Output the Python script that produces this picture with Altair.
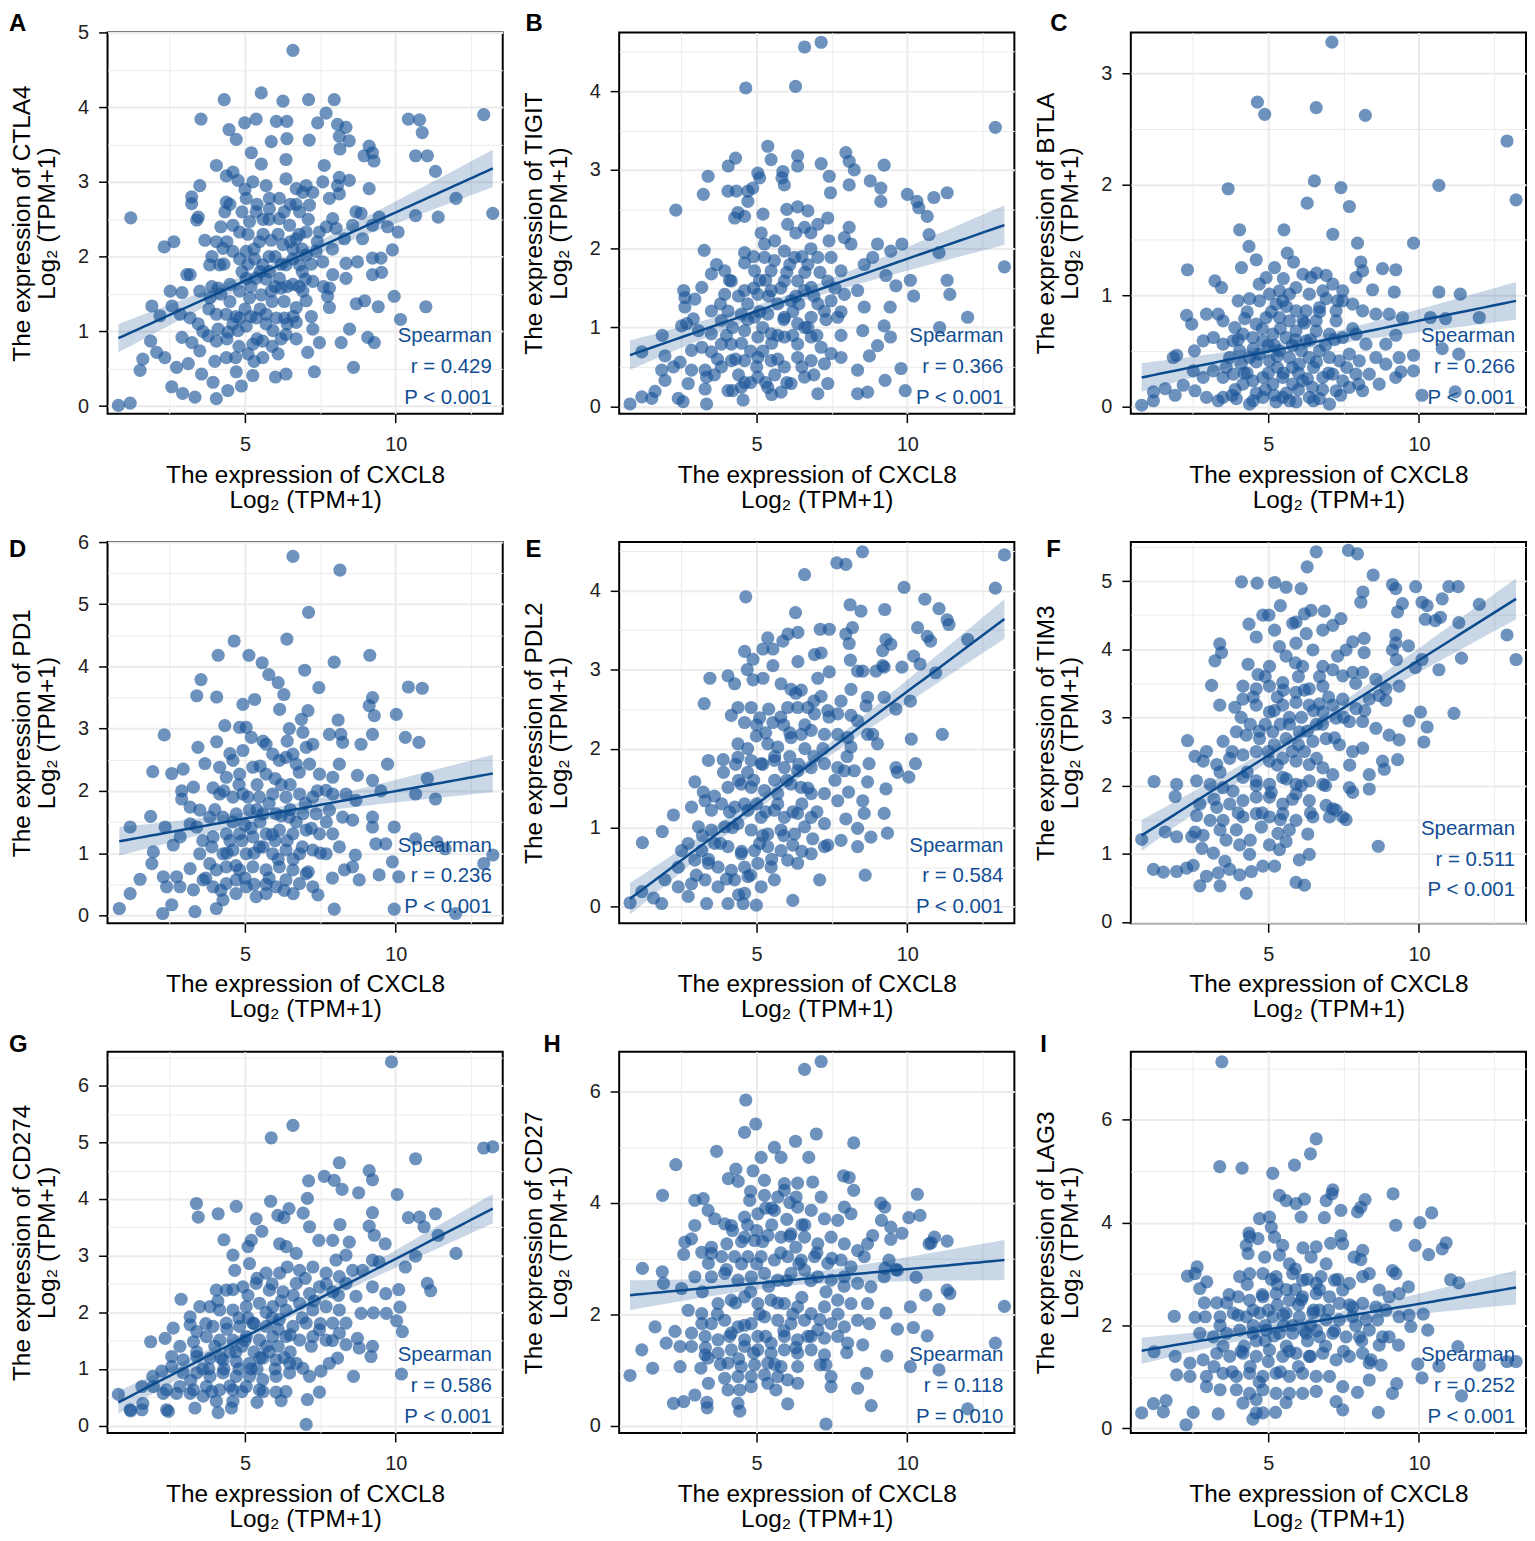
import altair as alt
import numpy as np
import pandas as pd

FONT = "Liberation Sans"
PT_COLOR = "#1a5597"
LINE_COLOR = "#0b4a8c"
TXT_COLOR = "#124e93"

LETTERS = list("ABCDEFGHI")
GENES = ["CTLA4", "TIGIT", "BTLA", "PD1", "PDL2", "TIM3", "CD274", "CD27", "LAG3"]
R_VALUES = ["0.429", "0.366", "0.266", "0.236", "0.584", "0.511", "0.586", "0.118", "0.252"]
P_VALUES = ["P < 0.001"] * 7 + ["P = 0.010", "P < 0.001"]
X_TITLE = ["The expression of CXCL8", "Log\u2082 (TPM+1)"]
X_TICKS = [2.5, 5, 7.5, 10, 12.5]
X_DOMAIN = [0.44, 13.55]

# fitted line value at min / max CXCL8, CI half-width at centre and at right end
FIT_START = [0.91, 0.65, 0.26, 1.19, 0.10, 1.27, 0.41, 2.34, 1.51]
FIT_END = [3.18, 2.30, 0.95, 2.28, 3.64, 4.74, 3.83, 2.97, 2.74]
BAND_MID = [0.07, 0.07, 0.05, 0.09, 0.07, 0.08, 0.07, 0.10, 0.09]
BAND_END = [0.25, 0.25, 0.17, 0.30, 0.25, 0.30, 0.26, 0.36, 0.33]

Y_DOMAINS = [[-0.10, 5.0], [-0.093, 4.745], [-0.066, 3.368], [-0.128, 6.0], [-0.21, 4.613],
             [-0.02, 5.573], [-0.13, 6.60], [-0.131, 6.706], [-0.09, 7.326]]
Y_MAJOR = [1, 1, 1, 1, 1, 1, 1, 2, 2]

a_pts = [(6.59,4.76),(4.31,4.10),(5.54,4.19),(6.26,4.08),(7.11,4.10),(7.96,4.10),(7.69,3.92),(3.54,3.84),(4.99,3.79),(5.37,3.84),(6.04,3.81),(6.39,3.81),(7.41,3.79),(8.07,3.77),(8.35,3.73),(4.47,3.70),(4.71,3.57),(5.87,3.54),(6.39,3.58),(7.13,3.56),(8.13,3.61),(8.46,3.55),(8.15,3.44),(9.12,3.48),(9.23,3.39),(8.95,3.35),(9.28,3.28),(10.42,3.84),(10.79,3.83),(10.88,3.66),(12.92,3.90),(10.66,3.35),(11.05,3.35),(11.32,3.14),(12.0,2.78),(13.22,2.58),(10.66,2.55),(11.41,2.53),(10.08,2.33),(9.73,2.40),(9.89,2.09),(9.51,1.98),(9.53,1.79),(9.95,1.47),(11.0,1.33),(9.42,1.33),(10.16,1.16),(9.29,0.85),(9.07,0.92),(8.6,0.52),(8.19,0.85),(8.47,1.03),(8.69,1.37),(8.97,1.41),(1.21,2.52),(2.32,2.13),(2.64,2.20),(1.91,1.34),(1.87,0.87),(1.52,0.48),(1.61,0.63),(0.8,0.01),(1.19,0.04),(2.57,0.26),(2.93,0.17),(3.34,0.12),(4.05,0.10),(4.43,0.21),(4.88,0.27),(5.26,0.41),(5.59,0.65),(6.01,0.39),(6.36,0.43),(7.30,0.46),(7.08,0.72),(7.47,0.85),(7.25,1.03),(2.07,0.72),(2.34,0.65),(2.73,0.52),(3.12,0.57),(3.56,0.43),(3.94,0.32),(4.71,0.46),(3.5,0.74),(4.05,0.87),(4.38,0.65),(4.69,0.65),(5.1,0.70),(3.18,1.76),(2.52,1.54),(2.91,1.52),(2.58,1.34),(2.85,1.23),(2.18,1.21),(3.18,1.18),(3.45,1.10),(2.91,0.92),(3.24,0.85),(3.78,0.94),(4.11,1.03),(4.44,0.99),(4.77,1.01),(5.04,1.07),(5.37,1.18),(5.7,1.23),(6.04,1.18),(6.31,1.18),(6.7,1.32),(7.03,1.41),(6.7,1.12),(5.93,1.01),(5.59,0.87),(5.26,0.83),(6.36,0.96),(3.5,1.54),(3.84,1.45),(4.11,1.58),(4.5,1.63),(4.82,1.54),(5.15,1.45),(5.54,1.49),(5.87,1.54),(6.2,1.58),(6.59,1.63),(6.92,1.54),(7.25,1.67),(7.74,1.47),(7.8,1.32),(7.8,1.58),(7.91,1.76),(8.35,1.71),(8.73,1.93),(8.35,1.91),(9.23,1.76),(9.23,1.98),(8.9,2.24),(8.3,2.24),(8.02,2.38),(8.57,2.42),(9.23,2.42),(9.45,2.53),(8.85,2.58),(4.16,1.89),(3.83,1.89),(4.05,2.20),(4.27,2.11),(4.6,2.07),(4.82,1.97),(5.04,2.07),(5.32,1.97),(5.59,1.89),(5.81,1.80),(6.14,1.71),(6.36,1.89),(6.59,1.97),(6.81,1.89),(7.03,2.02),(7.36,2.07),(7.58,1.93),(5.48,2.20),(5.87,2.22),(6.26,2.16),(6.7,2.24),(7.03,2.33),(7.47,2.33),(7.91,2.51),(4.82,2.33),(4.6,2.42),(5.15,2.47),(5.37,2.60),(5.81,2.64),(6.14,2.51),(6.48,2.42),(6.81,2.60),(7.14,2.69),(6.92,2.86),(7.25,2.86),(7.03,2.95),(6.7,2.91),(6.36,3.04),(5.7,2.95),(5.81,2.78),(6.14,2.78),(5.26,3.0),(4.77,3.02),(5.04,2.78),(4.38,2.73),(4.33,2.60),(4.6,3.13),(4.05,3.22),(4.38,3.08),(5.21,3.39),(5.54,3.24),(3.5,2.95),(3.23,2.80),(3.23,2.71),(3.45,2.53),(3.4,2.49),(3.67,2.22),(3.07,1.76),(5.04,1.71),(5.37,1.71),(4.38,1.23),(4.82,1.18),(4.05,1.23),(8.13,2.84),(8.07,2.95),(8.46,3.02),(9.12,2.91),(8.68,2.60),(7.8,2.78),(7.58,3.0),(7.63,3.22),(8.13,3.06),(6.36,3.30),
         (4.5,1.4),(4.9,1.8),(5.2,1.6),(5.5,1.3),(5.8,2.0),(6.0,1.6),(6.3,1.4),(6.6,2.1),(6.9,1.8),(5.1,2.3),(5.6,2.5),(6.5,2.7),(4.3,1.9),(4.7,1.2),(5.3,0.6),(5.9,0.8),(6.4,1.1),(3.9,1.6),(4.2,2.4),(5.7,1.7),(6.1,2.3),(6.8,2.3),(7.2,1.2),(5.0,1.3),(4.4,0.9),
         (3.8,1.3),(4.0,0.6),(4.2,1.5),(4.4,2.2),(4.6,1.1),(4.8,0.8),(4.9,2.6),(5.1,1.9),(5.2,1.2),(5.3,2.1),(5.4,0.9),(5.5,1.8),(5.6,2.3),(5.7,1.1),(5.8,2.5),(5.9,1.4),(6.0,2.0),(6.1,0.7),(6.2,1.9),(6.3,2.6),(6.4,1.6),(6.5,2.2),(6.6,1.2),(6.7,2.7),(6.8,1.6),(6.9,2.1),(7.0,1.7),(7.1,2.5),(7.2,1.9),(7.4,2.2),(7.6,1.6),(7.7,2.4),(4.5,2.7),(5.0,2.9),(3.6,1.0),(3.9,2.0),(6.2,0.9),(5.4,2.7),(6.7,0.9),(7.9,2.1)]

b_pts = [(6.59,4.56),(7.14,4.62),(4.64,4.04),(6.29,4.06),(12.92,3.54),(13.22,1.77),(5.37,3.30),(5.48,3.13),(4.3,3.15),(4.06,3.05),(3.39,2.92),(3.23,2.69),(2.32,2.49),(3.26,1.98),(5.04,2.96),(5.1,2.9),(5.87,2.98),(5.84,2.9),(5.92,2.81),(6.36,3.18),(6.36,3.05),(7.14,3.08),(7.41,2.92),(7.45,2.71),(7.96,3.22),(8.07,3.11),(8.24,3.0),(8.07,2.81),(8.77,2.86),(9.23,3.06),(9.12,2.77),(9.12,2.6),(10.0,2.69),(10.32,2.6),(10.38,2.52),(10.66,2.41),(10.88,2.65),(11.32,2.71),(10.72,2.18),(11.05,1.95),(9.82,2.06),(10.1,1.6),(10.21,1.4),(11.32,1.6),(11.41,1.42),(12.0,1.13),(11.07,1.0),(9.44,0.88),(9.79,0.48),(9.93,0.2),(9.26,0.33),(8.68,0.18),(8.35,0.16),(8.35,0.46),(9.01,0.77),(8.74,0.64),(9.23,1.02),(9.43,1.26),(9.62,1.53),(9.29,1.66),(9.45,1.97),(9.01,2.06),(8.85,1.89),(8.57,1.8),(8.35,1.47),(8.57,1.26),(8.52,0.96),(8.13,2.06),(8.07,2.27),(7.91,2.14),(7.36,2.39),(7.03,2.31),(6.7,2.48),(6.36,2.53),(6.03,2.31),(6.59,2.27),(5.15,2.2),(5.26,2.06),(5.21,2.44),(4.71,2.6),(4.38,2.46),(4.71,2.73),(4.87,2.77),(4.05,2.73),(4.33,2.73),(4.6,2.41),(4.27,2.39),(3.67,1.8),(3.5,1.68),(3.18,1.51),(2.58,1.47),(2.62,1.38),(2.62,1.26),(2.95,1.36),(2.9,1.11),(3.5,1.21),(3.94,1.72),(3.94,1.42),(4.16,1.59),(4.6,1.95),(4.6,1.82),(5.26,1.89),(5.59,1.85),(5.92,1.97),(6.26,1.89),(6.7,1.8),(7.03,1.89),(7.47,1.89),(7.8,1.72),(7.36,1.59),(6.81,1.51),(6.36,1.59),(5.92,1.59),(5.48,1.72),(4.93,1.72),(4.6,1.47),(5.04,1.42),(5.48,1.47),(5.7,1.3),(6.14,1.34),(6.59,1.47),(7.03,1.3),(7.47,1.34),(7.91,1.42),(7.69,1.13),(7.25,1.21),(6.81,1.13),(6.36,1.05),(5.92,1.13),(5.37,1.17),(4.93,1.13),(4.49,1.17),(4.05,1.21),(3.83,1.09),(3.5,0.92),(3.07,0.96),(2.84,0.71),(3.18,0.75),(3.5,0.69),(3.83,0.79),(4.16,0.79),(4.6,0.96),(5.04,0.88),(5.48,0.92),(5.92,0.88),(6.36,0.79),(6.81,0.88),(7.14,0.75),(7.47,0.67),(7.8,0.9),(7.25,0.54),(6.81,0.58),(6.36,0.62),(5.92,0.5),(5.48,0.58),(5.04,0.62),(4.6,0.58),(4.16,0.58),(3.83,0.5),(3.29,0.46),(2.84,0.46),(2.46,0.56),(1.96,0.64),(1.85,0.46),(2.24,0.5),(1.96,0.33),(2.73,0.29),(3.29,0.22),(3.34,0.37),(4.05,0.2),(4.49,0.24),(4.55,0.08),(5.04,0.37),(5.37,0.24),(5.81,0.18),(6.14,0.29),(6.59,0.37),(7.03,0.16),(7.36,0.29),(7.8,0.62),(0.8,0.03),(1.19,0.12),(1.52,0.1),(1.63,0.19),(2.4,0.1),(2.56,0.06),(3.34,0.03),(1.19,0.69),(1.87,0.9),(2.51,1.02),(2.68,1.05),
         (4.4,0.4),(4.8,0.3),(5.2,0.7),(4.5,0.8),(5.7,0.9),(6.2,1.2),(6.6,1.0),(4.9,1.5),(5.3,1.6),(6.0,1.7),(6.5,1.9),(4.2,1.0),(3.7,0.6),(5.6,0.4),(6.9,0.4),(5.1,1.2),(4.7,1.3),(6.3,1.4),
         (3.6,0.4),(3.8,1.3),(4.0,0.9),(4.1,1.6),(4.3,0.6),(4.4,1.4),(4.6,0.3),(4.7,1.1),(4.8,0.7),(4.9,1.9),(5.0,0.5),(5.1,1.6),(5.2,1.0),(5.3,0.3),(5.4,1.4),(5.5,0.8),(5.6,2.1),(5.7,0.6),(5.8,1.5),(5.9,1.1),(6.0,0.3),(6.1,1.8),(6.2,0.9),(6.3,2.2),(6.4,1.3),(6.5,0.5),(6.6,1.7),(6.7,1.0),(6.8,2.0),(6.9,1.4),(7.0,0.9),(7.1,1.7),(7.3,1.1),(7.4,2.1),(7.6,1.5),(7.8,1.2),(4.2,0.2),(5.5,0.15),(6.0,2.5),(6.8,2.2)]

c_pts = [(7.11,3.28),(4.64,2.74),(4.88,2.63),(6.59,2.69),(8.22,2.62),(12.92,2.39),(13.22,1.86),(3.67,1.96),(6.53,2.03),(7.41,1.97),(6.29,1.83),(7.69,1.80),(10.66,1.99),(4.05,1.59),(5.52,1.59),(7.14,1.55),(7.96,1.47),(9.82,1.47),(4.36,1.44),(5.63,1.38),(2.32,1.23),(4.6,1.32),(5.84,1.30),(4.11,1.25),(3.23,1.13),(3.45,1.07),(5.21,1.25),(4.93,1.16),(6.15,1.19),(6.42,1.16),(6.92,1.18),(8.07,1.3),(8.13,1.22),(7.91,1.16),(8.79,1.24),(9.23,1.23),(8.46,1.05),(9.18,1.03),(10.66,1.03),(11.37,1.01),(12.0,0.8),(10.88,0.79),(10.38,0.8),(10.77,0.52),(11.32,0.47),(9.82,0.46),(9.4,0.31),(9.82,0.32),(11.2,0.13),(10.1,0.1),(2.29,0.82),(2.46,0.74),(2.95,0.83),(3.34,0.83),(1.96,0.46),(2.55,0.5),(2.84,0.59),(3.18,0.62),(3.5,0.77),(3.89,0.71),(4.22,0.79),(4.38,0.97),(4.71,0.95),(5.04,1.01),(5.26,0.92),(5.48,0.95),(5.92,0.86),(6.26,0.86),(6.7,0.89),(6.92,0.97),(7.25,0.86),(7.47,0.95),(7.8,0.92),(8.13,0.86),(8.57,0.83),(9.01,0.83),(9.45,0.8),(9.23,0.64),(8.9,0.56),(8.57,0.44),(8.9,0.38),(9.34,0.44),(9.23,0.26),(8.68,0.2),(8.35,0.29),(8.13,0.14),(7.69,0.17),(7.25,0.14),(7.03,0.02),(6.7,0.07),(6.36,0.08),(5.92,0.04),(5.48,0.08),(5.26,0.04),(4.82,0.08),(4.38,0.02),(3.94,0.07),(3.5,0.08),(3.34,0.05),(2.95,0.08),(2.57,0.14),(2.18,0.19),(1.91,0.1),(1.58,0.16),(1.19,0.13),(1.19,0.05),(0.8,0.01),(1.85,0.44),(2.51,0.32),(2.84,0.26),(3.18,0.32),(3.5,0.26),(3.84,0.29),(4.16,0.2),(4.49,0.23),(4.82,0.26),(5.15,0.2),(5.48,0.26),(5.81,0.2),(6.14,0.23),(6.47,0.17),(6.81,0.26),(7.14,0.29),(7.47,0.23),(7.91,0.29),(3.72,0.44),(4.05,0.5),(4.38,0.44),(4.71,0.47),(5.04,0.41),(5.37,0.5),(5.7,0.44),(6.03,0.38),(6.36,0.44),(6.7,0.5),(7.03,0.44),(7.36,0.41),(7.69,0.47),(8.02,0.41),(8.24,0.56),(7.91,0.65),(7.47,0.62),(7.03,0.65),(6.59,0.68),(6.26,0.59),(5.92,0.68),(5.59,0.62),(5.15,0.65),(4.82,0.59),(4.49,0.62),(4.16,0.65),(3.83,0.59),(3.5,0.56),(6.59,0.77),(6.15,0.77),(5.7,0.77),(5.37,0.8),(4.93,0.8),(4.6,0.74),(7.25,0.77),(6.81,1.04),(6.36,1.01),(5.7,1.01),(5.37,1.04),(7.47,1.04),(7.14,1.1),(5.92,1.07),
         (4.3,0.3),(4.6,0.12),(5.0,0.3),(5.3,0.35),(5.6,0.12),(6.0,0.3),(4.1,0.38),(5.2,0.55),(5.8,0.55),(4.5,0.52),(6.5,0.35),(3.9,0.15),
         (3.6,0.35),(3.8,0.1),(4.0,0.6),(4.2,0.3),(4.3,0.85),(4.5,0.05),(4.6,0.4),(4.8,0.7),(4.9,0.15),(5.0,0.55),(5.1,0.85),(5.2,0.1),(5.3,0.45),(5.4,0.7),(5.5,0.3),(5.6,0.9),(5.7,0.05),(5.8,0.35),(5.9,0.6),(6.0,0.15),(6.1,0.5),(6.2,0.75),(6.3,0.25),(6.4,0.6),(6.5,0.05),(6.6,0.4),(6.7,0.85),(6.8,0.15),(6.9,0.55),(7.0,0.3),(7.2,0.6),(7.4,0.1),(7.6,0.35),(7.8,0.7),(8.0,0.2),(4.7,1.1),(5.5,1.15),(6.6,1.2),(4.0,0.95),(7.3,0.95)]

d_pts = [(6.59,5.77),(8.15,5.55),(7.11,4.87),(6.39,4.44),(4.64,4.41),(4.11,4.18),(5.13,4.18),(5.57,4.06),(7.96,4.07),(9.14,4.18),(6.98,3.94),(3.54,3.79),(5.79,3.87),(6.1,3.74),(3.4,3.53),(4.06,3.51),(7.45,3.66),(6.29,3.55),(10.42,3.67),(10.88,3.65),(9.23,3.5),(9.12,3.37),(9.29,3.21),(10.02,3.23),(4.93,3.39),(5.32,3.47),(6.15,3.31),(7.09,3.29),(6.87,3.15),(8.09,3.14),(2.32,2.9),(3.44,2.7),(4.06,2.79),(4.33,3.05),(4.82,3.02),(5.04,3.02),(5.21,2.86),(5.7,2.75),(6.47,3.0),(6.92,2.94),(7.8,2.91),(8.18,2.91),(8.24,2.78),(8.85,2.75),(9.23,2.91),(10.32,2.86),(10.77,2.78),(7.25,2.75),(3.67,2.44),(1.94,2.31),(2.57,2.28),(2.95,2.35),(2.9,2.0),(2.9,1.87),(9.73,2.43),(9.23,2.17),(8.73,2.25),(11.05,2.2),(10.66,1.95),(11.32,1.87),(9.51,2.0),(9.23,1.58),(9.23,1.42),(9.95,1.42),(9.34,1.15),(9.67,1.15),(10.66,1.23),(11.37,1.18),(11.64,1.07),(9.89,0.86),(8.66,0.97),(8.57,0.78),(8.3,0.73),(8.79,0.57),(9.45,0.65),(10.1,0.62),(12.92,0.83),(13.22,0.97),(11.99,0.03),(9.95,0.1),(7.96,0.1),(1.19,1.42),(1.87,1.59),(0.83,0.11),(1.19,0.35),(1.52,0.58),(1.91,0.83),(1.96,1.02),(2.27,0.03),(2.57,0.17),(3.34,0.06),(4.05,0.11),(4.27,0.25),(2.35,1.42),(2.62,1.13),(3.18,1.47),(3.5,1.69),(3.4,1.42),(2.85,1.26),(3.5,0.99),(3.18,0.75),(2.73,0.62),(2.29,0.62),(2.4,0.46),(2.84,0.46),(3.29,0.41),(3.61,0.57),(3.94,0.46),(4.38,0.51),(4.71,0.57),(5.04,0.46),(5.37,0.3),(5.7,0.35),(6.03,0.46),(6.36,0.57),(6.81,0.51),(7.25,0.46),(7.42,0.33),(7.03,0.67),(6.59,0.73),(6.14,0.78),(5.7,0.73),(5.26,0.78),(4.82,0.73),(4.38,0.78),(4.05,0.73),(3.83,0.83),(4.27,0.99),(4.6,1.05),(5.04,0.99),(5.48,1.1),(5.92,0.99),(6.36,1.05),(6.81,0.99),(7.25,1.05),(7.69,0.99),(8.13,1.1),(7.91,1.31),(7.47,1.31),(7.03,1.37),(6.59,1.31),(6.14,1.37),(5.7,1.31),(5.26,1.26),(4.82,1.31),(4.38,1.31),(3.94,1.26),(3.83,1.58),(4.27,1.58),(4.71,1.63),(5.15,1.69),(5.59,1.63),(6.03,1.63),(6.47,1.58),(6.92,1.63),(7.36,1.63),(7.8,1.69),(8.24,1.58),(8.57,1.53),(8.68,1.85),(8.35,1.95),(7.91,1.95),(7.69,2.01),(7.25,1.9),(6.81,1.95),(6.36,1.9),(5.92,1.95),(5.48,1.9),(4.93,1.95),(4.6,1.9),(4.16,1.95),(4.38,2.22),(4.82,2.27),(5.26,2.38),(5.7,2.27),(6.14,2.49),(6.36,2.54),(6.7,2.43),(7.14,2.43),(7.47,2.27),(7.91,2.22),(8.13,2.43),(5.92,2.59),(6.59,2.59),(7.03,2.7),(4.93,2.65),(4.6,2.49),(4.16,2.38),(3.94,2.05),(3.18,1.74),(3.29,2.06),
         (5.0,1.45),(5.5,1.5),(6.0,1.2),(6.5,1.7),(5.3,1.0),(5.8,0.6),(4.5,1.2),(6.2,2.1),(5.4,2.1),(4.7,0.35),(6.6,0.35),(3.6,1.2),
         (3.7,0.6),(3.9,1.1),(4.0,1.7),(4.2,0.4),(4.3,2.0),(4.4,1.0),(4.6,1.5),(4.7,0.8),(4.8,2.1),(4.9,1.2),(5.0,0.6),(5.1,1.9),(5.2,1.4),(5.3,0.5),(5.4,1.7),(5.5,2.4),(5.6,1.1),(5.7,0.5),(5.8,1.8),(5.9,1.3),(6.0,2.2),(6.1,0.9),(6.2,1.6),(6.3,0.4),(6.4,1.2),(6.5,2.1),(6.6,0.9),(6.7,1.5),(6.8,2.3),(6.9,1.1),(7.0,1.8),(7.1,0.7),(7.2,1.4),(7.4,2.0),(7.5,1.0),(7.7,1.5),(7.9,0.6),(4.5,2.6),(5.6,2.8),(6.4,2.8)]

e_pts = [(8.51,4.49),(13.22,4.45),(7.66,4.35),(7.96,4.33),(6.59,4.2),(12.92,4.03),(9.89,4.04),(4.64,3.92),(10.58,3.89),(8.1,3.82),(8.46,3.74),(9.25,3.76),(11.05,3.77),(11.32,3.63),(11.38,3.57),(6.29,3.72),(7.11,3.51),(7.41,3.51),(8.18,3.53),(10.34,3.53),(10.66,3.42),(10.77,3.36),(12.0,3.38),(5.37,3.4),(6.04,3.45),(6.37,3.47),(5.87,3.36),(7.96,3.45),(8.07,3.33),(9.29,3.38),(9.45,3.32),(9.18,3.24),(9.23,3.03),(4.6,3.23),(4.88,3.13),(5.21,3.26),(5.54,3.26),(5.54,3.05),(6.92,3.19),(7.14,3.21),(6.37,3.1),(8.11,3.12),(8.35,2.98),(8.52,2.98),(8.96,2.98),(9.18,3.05),(9.82,3.03),(10.21,3.17),(10.42,3.07),(10.94,2.96),(4.69,3.0),(4.88,2.87),(5.21,2.89),(3.45,2.89),(4.05,2.92),(4.27,2.82),(5.81,2.82),(6.14,2.75),(6.48,2.74),(7.03,2.89),(7.41,2.97),(7.14,2.66),(8.13,2.75),(8.68,2.65),(8.63,2.54),(9.23,2.65),(9.62,2.5),(10.1,2.6),(3.26,2.57),(4.38,2.52),(4.82,2.52),(4.16,2.42),(4.6,2.33),(5.1,2.39),(5.54,2.33),(6.03,2.52),(6.36,2.52),(6.7,2.52),(6.92,2.44),(7.36,2.48),(7.69,2.44),(8.13,2.42),(8.35,2.35),(8.68,2.18),(8.85,2.18),(9.01,2.06),(10.13,2.12),(11.16,2.18),(4.99,2.16),(5.37,2.06),(5.7,2.02),(6.14,2.14),(6.48,2.18),(6.81,2.23),(7.25,2.18),(7.69,2.18),(8.02,2.14),(8.13,2.02),(4.38,2.06),(3.4,1.85),(3.89,1.86),(4.38,1.89),(4.82,1.85),(5.15,1.81),(5.59,1.85),(5.92,1.76),(6.36,1.72),(6.81,1.76),(7.25,1.81),(7.69,1.76),(7.91,1.72),(8.24,1.72),(8.73,1.81),(9.62,1.76),(9.67,1.7),(10.27,1.81),(10.05,1.64),(2.95,1.58),(3.23,1.45),(4.05,1.51),(4.49,1.55),(4.82,1.51),(5.26,1.47),(5.7,1.43),(6.14,1.55),(6.47,1.51),(6.81,1.43),(7.25,1.43),(7.69,1.34),(8.05,1.45),(8.52,1.34),(8.68,1.58),(9.29,1.49),(8.57,1.18),(9.23,1.18),(7.96,1.11),(8.35,0.99),(9.34,0.93),(8.79,0.88),(8.35,0.76),(7.8,0.84),(7.36,0.78),(6.86,0.86),(7.09,0.34),(8.6,0.4),(6.2,0.08),(2.24,1.16),(1.87,0.95),(1.21,0.81),(2.84,1.26),(3.29,1.34),(3.5,1.22),(3.84,1.3),(4.27,1.26),(4.71,1.22),(5.15,1.13),(5.59,1.22),(5.92,1.13),(6.36,1.18),(6.81,1.13),(7.25,1.05),(3.07,1.01),(3.5,0.97),(3.94,1.01),(4.38,1.05),(4.82,0.97),(5.37,0.92),(5.81,0.97),(6.26,0.92),(6.59,1.01),(2.51,0.71),(2.73,0.8),(3.18,0.71),(3.61,0.8),(4.05,0.76),(4.49,0.67),(4.93,0.71),(5.37,0.76),(5.81,0.71),(6.2,0.78),(6.81,0.67),(7.25,0.76),(6.36,0.55),(6.03,0.59),(5.48,0.5),(5.04,0.55),(4.6,0.5),(4.16,0.46),(3.72,0.5),(3.4,0.55),(2.95,0.59),(2.4,0.5),(1.96,0.34),(2.4,0.25),(2.84,0.29),(3.29,0.34),(3.72,0.25),(4.27,0.34),(4.71,0.38),(5.15,0.25),(5.59,0.34),(4.6,0.17),(4.05,0.04),(3.34,0.04),(2.73,0.13),(1.85,0.04),(1.58,0.11),(1.19,0.19),(0.8,0.05),(4.99,0.02),(4.55,0.04),
         (4.7,1.7),(5.3,2.2),(5.0,1.3),(5.6,1.6),(6.1,1.9),(6.6,2.0),(5.9,2.3),(4.4,1.6),(6.5,1.3),(5.2,0.9),(4.1,1.2),(6.9,1.9),
         (3.0,0.4),(3.2,0.9),(3.4,0.6),(3.6,1.4),(3.8,0.8),(3.9,1.7),(4.0,0.35),(4.2,1.0),(4.3,1.8),(4.5,0.7),(4.6,1.3),(4.7,2.0),(4.8,0.4),(4.9,1.6),(5.0,2.3),(5.1,0.8),(5.2,1.8),(5.3,1.2),(5.4,2.5),(5.5,0.6),(5.6,1.9),(5.7,1.3),(5.8,2.4),(5.9,0.9),(6.0,1.6),(6.1,2.2),(6.2,1.2),(6.3,2.7),(6.4,1.8),(6.5,0.7),(6.6,2.3),(6.7,1.5),(6.9,2.6),(7.0,1.2),(7.2,2.0),(7.4,2.4),(7.6,1.6),(7.8,2.6),(8.0,1.9),(4.4,0.15)]

f_pts = [(6.59,5.43),(7.66,5.45),(7.96,5.4),(6.29,5.21),(8.48,5.09),(4.11,4.99),(4.63,4.97),(5.21,4.98),(5.59,4.91),(6.09,4.89),(9.12,4.95),(9.23,4.89),(9.89,4.92),(10.99,4.92),(11.3,4.92),(8.14,4.84),(8.07,4.69),(10.1,4.69),(10.27,4.64),(10.77,4.74),(9.45,4.67),(9.29,4.55),(12.0,4.66),(10.21,4.44),(10.54,4.42),(10.71,4.47),(11.32,4.39),(12.92,4.21),(13.22,3.85),(11.41,3.87),(10.66,3.7),(10.1,3.85),(9.88,3.73),(9.65,4.05),(9.23,4.21),(9.23,4.09),(9.12,3.99),(9.25,3.85),(8.18,4.16),(8.18,3.95),(7.8,4.11),(7.58,3.99),(7.41,4.45),(6.86,4.56),(6.42,4.57),(6.2,4.52),(5.4,4.64),(5.92,4.4),(6.26,4.23),(6.81,4.28),(7.14,4.35),(4.82,4.5),(5.02,4.5),(4.36,4.37),(4.6,4.18),(5.21,4.28),(5.81,4.38),(3.39,4.08),(3.45,3.95),(3.23,3.83),(3.12,3.47),(3.39,3.18),(3.89,3.15),(4.33,3.78),(4.66,3.63),(5.04,3.75),(5.37,4.04),(5.59,3.9),(5.92,4.09),(6.14,3.75),(6.48,3.99),(6.81,3.75),(7.14,3.7),(7.47,3.61),(7.8,3.66),(8.13,3.66),(8.57,3.56),(8.9,3.42),(9.34,3.46),(8.68,3.32),(8.9,3.25),(8.35,3.27),(7.91,3.13),(7.47,3.27),(7.14,3.18),(6.81,3.46),(6.36,3.42),(5.92,3.37),(5.48,3.51),(5.04,3.46),(4.6,3.42),(4.16,3.46),(4.16,3.27),(4.6,3.18),(5.04,3.08),(5.48,3.18),(5.92,3.22),(6.36,3.18),(6.81,3.08),(7.25,2.99),(7.69,2.94),(8.13,2.94),(8.57,2.84),(9.01,2.74),(9.34,2.67),(9.67,2.95),(10.05,3.08),(10.27,2.86),(11.16,3.06),(10.16,2.64),(9.29,2.38),(8.79,2.36),(8.85,2.24),(8.35,2.16),(8.13,2.55),(7.8,2.5),(7.36,2.6),(6.92,2.69),(6.48,2.65),(6.03,2.79),(5.59,2.69),(5.15,2.79),(4.71,2.69),(4.27,2.74),(3.94,2.79),(3.5,2.65),(2.95,2.5),(2.57,2.43),(2.32,2.66),(2.84,2.36),(3.29,2.31),(3.72,2.4),(4.16,2.45),(4.6,2.5),(5.04,2.36),(5.48,2.4),(5.92,2.36),(6.36,2.31),(6.81,2.26),(7.14,2.16),(7.69,1.97),(7.8,1.9),(8.35,1.95),(6.81,2.02),(6.36,2.07),(5.92,2.02),(5.48,2.12),(5.04,2.02),(4.6,2.07),(4.16,2.12),(3.83,1.92),(3.5,1.97),(3.07,2.02),(2.62,2.07),(1.96,2.02),(1.21,2.06),(1.91,1.84),(2.73,1.73),(3.29,1.68),(3.72,1.73),(4.16,1.78),(4.6,1.83),(5.04,1.83),(5.48,1.73),(5.92,1.88),(6.36,1.78),(6.92,1.71),(7.25,1.64),(7.47,1.54),(7.03,1.54),(6.48,1.54),(5.92,1.49),(5.48,1.59),(5.04,1.54),(4.6,1.59),(4.16,1.54),(3.5,1.49),(3.07,1.49),(2.62,1.56),(2.57,1.32),(2.84,1.27),(3.4,1.35),(3.94,1.35),(4.77,1.39),(5.32,1.3),(5.7,1.35),(6.31,1.29),(1.58,1.32),(1.96,1.25),(0.8,1.21),(2.46,1.25),(2.8,1.08),(3.18,1.01),(3.56,0.89),(4.05,1.13),(4.38,0.99),(5.04,1.13),(5.37,1.06),(5.59,1.18),(6.03,0.91),(6.36,0.99),(5.21,0.82),(4.82,0.82),(4.44,0.74),(4.05,0.69),(3.72,0.77),(3.34,0.72),(2.95,0.67),(2.73,0.53),(3.4,0.53),(4.27,0.42),(1.19,0.77),(1.52,0.73),(1.96,0.74),(2.29,0.79),(2.51,0.83),(5.92,0.58),(6.2,0.54),(8.65,1.11),(7.58,1.5),(7.14,1.66),
         (5.2,2.6),(5.7,2.9),(6.1,3.0),(6.6,2.9),(5.4,2.9),(4.9,2.9),(6.2,2.5),(5.8,2.5),(6.7,3.2),(4.4,2.9),(5.3,3.3),(6.0,3.6),
         (3.2,1.8),(3.4,2.2),(3.6,1.2),(3.8,2.5),(4.0,1.6),(4.1,3.0),(4.3,2.2),(4.4,1.2),(4.5,3.3),(4.6,2.0),(4.7,2.8),(4.8,1.6),(4.9,3.6),(5.0,2.5),(5.1,1.9),(5.2,3.1),(5.3,2.3),(5.4,1.5),(5.5,3.4),(5.6,2.1),(5.7,3.0),(5.8,1.8),(5.9,3.8),(6.0,2.6),(6.1,2.0),(6.2,3.4),(6.3,2.8),(6.4,1.6),(6.5,3.1),(6.6,2.4),(6.7,3.6),(6.8,2.9),(6.9,2.0),(7.0,3.3),(7.2,2.7),(7.3,3.9),(7.5,3.0),(7.7,2.3),(7.9,3.5),(8.2,3.1)]

g_pts = [(9.86,6.42),(6.59,5.3),(5.87,5.08),(12.92,4.9),(13.22,4.92),(10.66,4.71),(8.13,4.64),(9.12,4.5),(9.23,4.34),(7.63,4.4),(7.96,4.33),(8.22,4.17),(7.11,4.32),(8.77,4.11),(10.05,4.08),(7.07,4.01),(3.39,3.92),(3.45,3.68),(4.71,3.87),(4.11,3.74),(5.85,3.96),(6.46,3.83),(6.09,3.71),(6.29,3.67),(6.93,3.75),(5.37,3.65),(5.56,3.43),(9.23,3.76),(10.42,3.67),(10.79,3.68),(11.32,3.74),(10.94,3.51),(11.41,3.36),(9.12,3.52),(9.29,3.36),(9.65,3.21),(8.15,3.55),(7.91,3.27),(8.46,3.24),(7.45,3.27),(7.14,3.51),(4.3,3.28),(5.1,3.16),(5.21,3.27),(6.15,3.21),(6.37,3.16),(6.7,3.04),(12.0,3.04),(10.66,2.99),(10.32,2.8),(11.05,2.51),(11.16,2.38),(10.1,2.4),(9.45,2.89),(9.23,2.92),(8.02,2.92),(8.35,3.01),(4.6,3.01),(4.66,2.74),(5.15,2.86),(5.7,2.69),(6.15,2.69),(6.81,2.74),(7.25,2.8),(7.69,2.69),(8.13,2.63),(8.57,2.74),(8.9,2.74),(4.38,2.39),(4.05,2.39),(4.93,2.45),(5.37,2.51),(5.81,2.39),(6.26,2.36),(6.7,2.51),(7.14,2.33),(7.47,2.45),(7.91,2.36),(8.35,2.51),(8.68,2.28),(9.23,2.45),(9.67,2.33),(2.88,2.23),(3.5,2.1),(3.84,2.1),(4.16,2.04),(4.6,2.04),(5.04,2.1),(5.48,2.16),(5.92,2.1),(6.36,2.04),(6.81,2.16),(7.25,2.04),(7.69,2.1),(8.13,2.04),(8.85,1.98),(9.26,1.99),(9.69,1.98),(10.14,2.09),(10.03,1.85),(10.22,1.66),(3.18,1.92),(3.18,1.78),(2.62,1.72),(3.4,1.66),(3.94,1.75),(4.38,1.81),(4.82,1.75),(5.26,1.81),(5.7,1.75),(6.14,1.87),(6.59,1.75),(7.03,1.81),(7.47,1.69),(7.91,1.81),(8.35,1.81),(8.13,1.63),(7.69,1.51),(7.25,1.57),(6.81,1.51),(6.36,1.57),(5.92,1.57),(5.48,1.51),(5.04,1.57),(4.6,1.51),(4.16,1.51),(3.72,1.57),(3.29,1.48),(2.84,1.4),(2.35,1.54),(1.87,1.48),(8.73,1.54),(8.35,1.43),(8.79,1.37),(9.23,1.4),(9.18,1.22),(8.07,1.19),(7.8,1.1),(7.52,0.96),(6.92,1.01),(6.48,1.1),(6.03,1.16),(5.59,1.19),(5.15,1.1),(4.71,1.13),(4.27,1.16),(3.84,1.19),(3.4,1.22),(2.95,1.16),(2.57,1.22),(2.24,0.96),(1.94,0.87),(2.57,1.04),(2.95,0.93),(3.4,0.93),(3.84,0.87),(4.27,0.93),(4.71,0.87),(5.15,0.87),(5.59,0.81),(6.03,0.87),(6.48,0.93),(7.14,0.87),(8.6,0.87),(10.19,0.91),(1.96,0.69),(1.58,0.69),(2.4,0.63),(2.84,0.69),(3.29,0.63),(3.72,0.69),(4.16,0.63),(4.6,0.63),(5.04,0.69),(5.48,0.63),(6.03,0.59),(6.36,0.6),(7.47,0.59),(7.07,0.46),(6.2,0.44),(5.4,0.41),(4.6,0.43),(4.05,0.43),(3.61,0.52),(3.18,0.57),(2.73,0.57),(2.29,0.57),(0.8,0.55),(1.19,0.28),(1.21,0.26),(1.58,0.28),(1.61,0.39),(2.4,0.28),(2.46,0.25),(3.34,0.31),(4.11,0.23),(4.55,0.31),(7.03,0.02),
         (4.5,1.3),(4.9,1.4),(5.3,1.3),(5.7,1.4),(6.1,1.4),(4.8,1.0),(5.4,1.0),(5.9,1.9),(6.5,1.3),(4.2,1.2),(3.8,1.0),(5.1,1.9),
         (3.2,0.8),(3.4,1.3),(3.6,1.0),(3.7,1.8),(3.9,0.6),(4.0,1.4),(4.1,2.2),(4.3,1.0),(4.4,1.7),(4.5,0.7),(4.6,2.4),(4.7,1.3),(4.8,1.9),(4.9,0.6),(5.0,1.5),(5.1,2.3),(5.2,1.0),(5.3,1.8),(5.4,2.6),(5.5,1.2),(5.6,0.6),(5.7,2.0),(5.8,1.3),(5.9,2.5),(6.0,1.0),(6.1,1.7),(6.2,2.2),(6.3,1.2),(6.4,2.8),(6.5,1.6),(6.6,2.3),(6.7,1.1),(6.9,1.9),(7.0,2.6),(7.2,1.4),(7.3,2.2),(7.5,1.8),(7.7,2.5),(7.9,1.5),(8.1,2.3)]

h_pts = [(7.14,6.53),(6.59,6.39),(4.64,5.84),(4.97,5.41),(4.6,5.26),(6.98,5.23),(6.29,5.1),(8.22,5.07),(3.67,4.92),(5.59,4.99),(5.81,4.81),(6.73,4.81),(5.15,4.81),(2.32,4.68),(4.31,4.6),(4.88,4.57),(4.06,4.43),(4.39,4.38),(5.26,4.4),(5.92,4.34),(6.36,4.35),(6.86,4.37),(7.88,4.48),(8.07,4.45),(8.22,4.22),(1.88,4.13),(2.95,4.04),(3.23,4.07),(4.77,4.04),(5.26,4.13),(5.92,4.22),(6.31,4.1),(7.14,4.1),(7.91,3.92),(8.13,3.8),(9.12,3.99),(9.25,3.92),(10.33,4.15),(10.42,3.77),(10.05,3.73),(9.14,3.68),(9.45,3.56),(9.82,3.45),(9.45,3.34),(8.85,3.41),(8.68,3.26),(10.79,3.28),(10.9,3.38),(11.32,3.31),(10.72,3.26),(3.39,3.86),(3.61,3.71),(2.95,3.59),(3.94,3.62),(4.16,3.59),(4.6,3.74),(5.04,3.8),(5.59,3.86),(6.36,3.92),(6.81,3.86),(7.25,3.71),(7.69,3.68),(2.62,3.29),(2.84,3.35),(2.58,3.07),(3.18,3.11),(3.5,3.09),(4.01,3.26),(4.6,3.38),(4.93,3.32),(5.37,3.41),(5.81,3.38),(6.14,3.44),(6.59,3.38),(7.03,3.26),(7.47,3.38),(7.91,3.26),(8.35,3.14),(8.57,3.03),(9.39,2.97),(9.67,2.79),(9.26,2.82),(1.21,2.82),(1.87,2.76),(1.91,2.55),(2.51,2.46),(2.95,2.67),(3.4,2.91),(3.84,3.03),(4.27,3.03),(4.71,3.03),(5.15,3.03),(5.59,2.97),(6.03,3.03),(6.48,2.97),(6.92,3.03),(7.36,2.91),(7.8,2.97),(8.13,2.85),(3.5,2.67),(3.94,2.73),(4.38,2.61),(4.82,2.67),(5.26,2.73),(5.7,2.61),(6.14,2.73),(6.59,2.79),(7.03,2.67),(7.47,2.61),(7.91,2.67),(8.35,2.55),(8.79,2.49),(9.23,2.67),(9.62,2.8),(10.29,2.66),(10.61,2.34),(11.32,2.43),(11.41,2.37),(10.1,2.13),(11.05,2.08),(13.22,2.14),(9.29,2.02),(8.68,2.19),(2.73,2.07),(3.18,2.01),(3.72,2.19),(4.16,2.25),(4.6,2.31),(5.04,2.19),(5.48,2.25),(5.92,2.19),(6.36,2.13),(6.81,2.01),(7.25,2.13),(7.69,2.25),(8.13,2.19),(8.35,1.89),(8.74,1.83),(7.91,1.77),(7.47,1.83),(7.03,1.72),(6.59,1.89),(6.14,1.83),(5.7,1.89),(5.26,1.95),(4.82,1.83),(4.38,1.77),(3.94,1.89),(3.5,1.83),(3.18,1.83),(1.63,1.77),(2.29,1.69),(2.84,1.66),(3.29,1.6),(3.72,1.54),(4.16,1.66),(4.6,1.54),(5.04,1.6),(5.48,1.48),(5.92,1.6),(6.36,1.54),(6.81,1.6),(7.25,1.57),(7.69,1.6),(8.02,1.48),(8.52,1.45),(9.67,1.73),(10.2,1.76),(10.66,1.61),(9.32,1.25),(7.99,1.31),(7.25,1.27),(6.81,1.36),(6.36,1.3),(5.92,1.36),(5.48,1.3),(5.04,1.36),(4.6,1.42),(4.16,1.36),(3.72,1.3),(3.29,1.27),(2.84,1.42),(2.46,1.42),(2.0,1.48),(1.19,1.36),(0.8,0.9),(1.55,1.03),(2.46,1.06),(3.15,1.03),(3.39,1.21),(4.05,1.12),(4.49,1.06),(4.93,1.09),(5.37,1.12),(5.81,1.06),(6.36,1.06),(7.11,1.09),(7.3,1.09),(3.94,0.85),(4.38,0.88),(4.82,0.88),(5.26,0.91),(5.7,0.88),(6.03,0.82),(6.36,0.76),(7.47,0.88),(7.47,0.7),(8.35,0.67),(8.65,0.94),(10.1,1.06),(11.05,1.0),(3.4,0.76),(2.95,0.55),(2.58,0.43),(2.24,0.4),(3.35,0.42),(3.36,0.32),(4.05,0.64),(4.44,0.64),(4.82,0.7),(5.37,0.76),(5.64,0.64),(4.44,0.26),(4.38,0.4),(6.03,0.39),(8.8,0.36),(7.3,0.03),(12.0,0.3),(12.92,1.48),
         (4.5,3.3),(5.0,3.5),(5.5,3.6),(6.0,3.7),(6.3,3.2),(5.3,3.9),(4.8,4.2),(6.1,4.0),(5.7,4.1),(6.5,3.6),
         (3.2,2.4),(3.3,1.4),(3.5,3.2),(3.7,2.0),(3.8,1.1),(4.0,2.8),(4.1,1.6),(4.2,3.5),(4.3,2.2),(4.4,1.2),(4.5,2.9),(4.6,1.8),(4.7,3.6),(4.8,2.4),(4.9,1.3),(5.0,2.9),(5.1,2.0),(5.2,3.3),(5.3,1.6),(5.4,2.5),(5.5,3.9),(5.6,1.1),(5.7,2.2),(5.8,3.1),(5.9,1.7),(6.0,2.6),(6.1,3.4),(6.2,2.0),(6.3,1.4),(6.4,2.9),(6.5,2.3),(6.6,3.6),(6.7,1.6),(6.8,2.6),(7.0,3.1),(7.1,1.9),(7.3,2.4),(7.5,3.0),(7.7,2.0),(7.9,2.5)]

i_pts = [(3.46,7.13),(6.59,5.63),(6.4,5.34),(3.39,5.09),(4.13,5.06),(5.87,5.12),(5.15,4.96),(7.14,4.64),(7.11,4.56),(9.14,4.56),(5.37,4.53),(5.59,4.43),(5.92,4.37),(6.2,4.46),(6.92,4.43),(8.21,4.45),(7.96,4.21),(8.07,4.3),(7.41,4.24),(6.09,4.11),(6.86,4.1),(10.42,4.19),(10.03,4.0),(9.23,3.95),(4.71,4.08),(5.04,4.11),(5.1,3.91),(4.36,3.8),(4.38,3.73),(4.66,3.69),(5.21,3.72),(4.33,3.4),(4.27,3.56),(5.37,3.37),(5.48,3.56),(6.15,3.51),(6.42,3.33),(6.59,3.53),(7.07,3.6),(7.41,3.75),(7.47,3.59),(7.85,3.33),(8.13,3.46),(8.07,3.28),(9.87,3.56),(10.77,3.49),(10.9,3.61),(10.32,3.38),(4.88,3.33),(5.7,3.2),(6.92,3.2),(7.2,2.88),(6.75,2.95),(8.35,3.01),(8.13,2.95),(9.12,3.07),(9.23,3.01),(9.65,2.75),(11.05,2.89),(11.32,2.83),(2.32,2.96),(2.64,3.14),(2.73,2.72),(2.96,2.85),(2.57,3.01),(4.05,2.95),(4.38,3.01),(4.82,3.01),(5.26,2.95),(5.81,3.01),(6.14,2.88),(6.59,2.82),(7.47,2.69),(7.69,2.82),(8.68,2.69),(9.01,2.56),(9.34,2.62),(2.88,2.44),(3.29,2.44),(3.62,2.44),(4.0,2.56),(4.38,2.49),(4.82,2.56),(5.26,2.62),(5.7,2.49),(6.14,2.56),(6.59,2.62),(7.03,2.56),(7.36,2.43),(7.8,2.36),(8.13,2.43),(8.57,2.36),(8.9,2.3),(9.34,2.17),(9.67,2.2),(10.14,2.22),(1.88,2.18),(2.57,2.16),(2.91,2.17),(3.4,2.17),(3.84,2.24),(4.27,2.17),(4.71,2.24),(5.15,2.17),(5.59,2.24),(6.03,2.17),(6.48,2.24),(6.92,2.11),(7.36,2.11),(7.8,2.17),(8.24,2.11),(8.63,2.11),(9.73,1.98),(10.29,1.91),(2.73,1.85),(3.18,1.78),(3.62,1.85),(4.05,1.91),(4.49,1.85),(4.93,1.91),(5.37,1.85),(5.81,1.85),(6.26,1.85),(6.7,1.78),(7.14,1.85),(7.58,1.78),(8.02,1.78),(8.35,1.91),(8.79,1.78),(9.01,1.78),(9.32,1.62),(8.68,1.62),(1.21,1.49),(1.91,1.4),(1.96,1.04),(2.4,1.27),(2.84,1.33),(3.29,1.46),(3.72,1.4),(4.16,1.46),(4.6,1.4),(5.04,1.52),(5.48,1.4),(5.92,1.46),(6.36,1.4),(6.81,1.46),(7.25,1.33),(7.69,1.4),(8.13,1.46),(8.41,1.33),(8.35,1.27),(8.74,1.23),(9.96,1.25),(10.66,1.21),(12.0,1.23),(12.92,1.3),(13.22,1.3),(11.29,1.59),(8.35,0.94),(9.26,0.87),(9.12,0.68),(10.1,0.98),(11.41,0.63),(7.96,0.7),(7.47,0.81),(7.03,1.01),(6.59,1.01),(6.14,1.07),(5.7,1.01),(5.26,1.07),(4.82,1.01),(4.38,1.07),(3.94,1.01),(3.5,1.07),(2.95,1.01),(2.4,1.01),(2.95,0.81),(3.4,0.75),(3.94,0.75),(4.38,0.68),(4.82,0.75),(5.26,0.68),(5.7,0.68),(6.14,0.68),(6.59,0.72),(7.25,0.52),(7.47,0.36),(5.59,0.5),(4.16,0.49),(4.6,0.56),(4.6,0.3),(4.82,0.3),(4.49,0.18),(5.24,0.31),(8.65,0.31),(0.8,0.3),(1.19,0.48),(1.61,0.54),(1.52,0.32),(2.27,0.07),(2.51,0.31),(3.34,0.28),
         (4.5,2.0),(5.0,2.3),(5.5,2.0),(6.0,2.4),(6.4,2.0),(4.2,1.6),(4.9,1.7),(5.6,1.6),(6.3,1.7),(5.3,2.8),(5.9,2.7),(6.7,2.3),
         (3.2,1.2),(3.4,2.0),(3.5,1.6),(3.7,2.6),(3.8,1.1),(4.0,2.2),(4.1,1.5),(4.3,2.8),(4.4,1.2),(4.5,2.3),(4.6,1.7),(4.7,0.9),(4.8,2.6),(4.9,2.0),(5.0,1.3),(5.1,2.9),(5.2,1.8),(5.3,2.4),(5.4,1.1),(5.5,2.2),(5.6,2.7),(5.7,1.5),(5.8,2.0),(5.9,3.1),(6.0,1.2),(6.1,2.5),(6.2,1.9),(6.3,2.9),(6.4,1.4),(6.5,2.3),(6.6,1.9),(6.7,2.7),(6.9,1.6),(7.0,2.3),(7.2,1.9),(7.3,2.9),(7.5,1.5),(7.7,2.4),(7.9,2.0),(8.1,1.7)]

POINTS = [a_pts, b_pts, c_pts, d_pts, e_pts, f_pts, g_pts, h_pts, i_pts]

# ---- layout (pixels) ----
W, H = 397, 383
LETTER_DX = [-99, -94, -81, -99, -94, -85, -99, -76, -91]
LETTER_DY = [-20, -20, -20, -4, -4, -4, -19, -19, -19]
ANNOT_Y = [305, 336, 367]
ANNOT_Y_F = [288, 319, 350]


def cond(test, a, b):
    return {"condition": {"test": test, "value": a}, "value": b}


def make_panel(i):
    df = pd.DataFrame(POINTS[i], columns=["x", "y"])
    xmin, xmax, xm = df.x.min(), df.x.max(), df.x.mean()
    xs = np.linspace(xmin, xmax, 60)
    fit = FIT_START[i] + (FIT_END[i] - FIT_START[i]) * (xs - xmin) / (xmax - xmin)
    hm, he = BAND_MID[i], BAND_END[i]
    half = np.sqrt(hm ** 2 + (he ** 2 - hm ** 2) * ((xs - xm) / (xmax - xm)) ** 2)
    bdf = pd.DataFrame({"x": xs, "fit": fit, "lo": fit - half, "hi": fit + half})

    xt = "datum.value % 5 == 0"
    xaxis = alt.Axis(values=X_TICKS, labelExpr=f"{xt} ? '' + datum.value : ''", title=X_TITLE,
                     gridWidth=cond(xt, 2, 1), tickOpacity=cond(xt, 1, 0))
    major = Y_MAJOR[i]
    ymax = Y_DOMAINS[i][1]
    yvals = [float(v) for v in np.arange(0, ymax + 1e-9, major / 2)]
    yt = f"datum.value % {major} == 0"
    yaxis = alt.Axis(values=yvals, labelExpr=f"{yt} ? '' + datum.value : ''",
                     title=["The expression of " + GENES[i], "Log\u2082 (TPM+1)"],
                     gridWidth=cond(yt, 2, 1), tickOpacity=cond(yt, 1, 0))
    xsc = alt.Scale(domain=X_DOMAIN, nice=False, zero=False)
    ysc = alt.Scale(domain=Y_DOMAINS[i], nice=False, zero=False)
    xenc = alt.X("x:Q", scale=xsc, axis=xaxis)

    pts = alt.Chart(df).mark_circle(size=175, color=PT_COLOR, opacity=0.64).encode(
        x=xenc, y=alt.Y("y:Q", scale=ysc, axis=yaxis))
    band = alt.Chart(bdf).mark_area(color=LINE_COLOR, opacity=0.22).encode(
        x=xenc, y=alt.Y("lo:Q", scale=ysc, axis=yaxis), y2="hi:Q")
    line = alt.Chart(bdf).mark_line(color=LINE_COLOR, strokeWidth=2.5).encode(
        x=xenc, y=alt.Y("fit:Q", scale=ysc, axis=yaxis))

    dummy = pd.DataFrame({"a": [0]})
    ys = ANNOT_Y_F if i == 5 else ANNOT_Y
    texts = [alt.Chart(dummy).mark_text(text=t, align="right", baseline="middle", font=FONT,
                                         fontSize=20.5, color=TXT_COLOR).encode(
        x=alt.value(W - 11), y=alt.value(yy))
        for t, yy in zip(["Spearman", "r = " + R_VALUES[i], P_VALUES[i]], ys)]
    letter = alt.Chart(dummy).mark_text(text=LETTERS[i], align="left", baseline="top", font=FONT,
                                        fontSize=24, fontWeight="bold", color="black").encode(
        x=alt.value(LETTER_DX[i]), y=alt.value(LETTER_DY[i]))
    return alt.layer(pts, band, line, *texts, letter).properties(width=W, height=H)


chart = alt.concat(*[make_panel(i) for i in range(9)], columns=3,
                   spacing={"row": 129, "column": 117}).properties(bounds="flush", padding=0)

chart = chart.configure_axis(
    domain=False, grid=True, gridColor="#ebebeb", tickColor="black", tickWidth=1.5, tickSize=9,
    labelFont=FONT, labelFontSize=20, labelColor="#222222", labelPadding=10,
    titleFont=FONT, titleFontSize=24.5, titleFontWeight="normal", titleColor="black", titleLineHeight=25,
).configure_axisY(labelPadding=10, titlePadding=18).configure_axisX(labelPadding=12, titlePadding=9).configure_view(
    stroke="black", strokeWidth=2)

chart.save("out.html", embed_options={"renderer": "svg", "actions": False})
